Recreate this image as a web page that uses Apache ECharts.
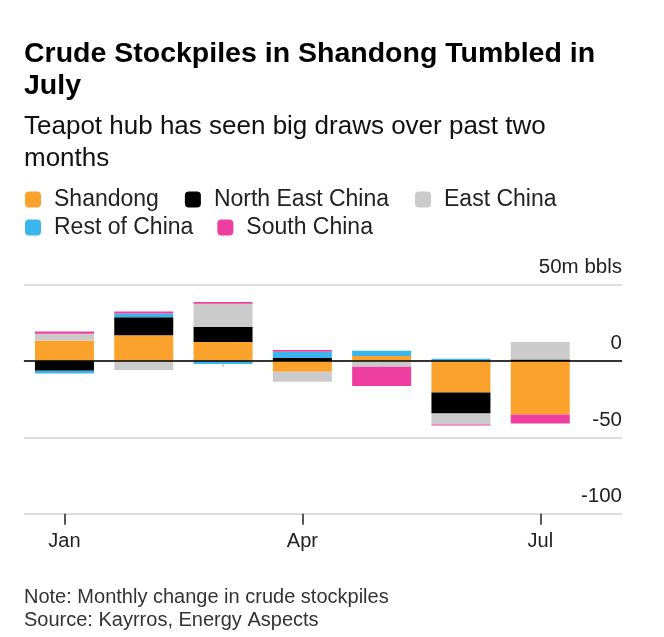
<!DOCTYPE html>
<html>
<head>
<meta charset="utf-8">
<script src="https://cdn.jsdelivr.net/npm/echarts@6/dist/echarts.min.js"></script>
<style>
  html, body { margin: 0; padding: 0; background: #fff; }
  #chart { width: 664px; height: 637px; }
</style>
</head>
<body>
<div id="chart"></div>
<script>
// monthly change in crude stockpiles, m bbls
var months = ['Jan', 'Feb', 'Mar', 'Apr', 'May', 'Jun', 'Jul'];
var monthTicks = [0, 3, 6];
var shandong = [13.4, 16.9, 12.5, -7.0, 3.3, -20.6, -35.0];
var northEast = [-6.4, 11.8, 9.9, 2.0, 0, -13.8, 1.0];
var eastChina = [4.4, -5.9, 15.1, -6.6, -3.7, -7.2, 11.5];
var restOfChina = [-1.7, 2.4, -2.0, 4.0, 3.5, 1.5, 0];
var southChina = [1.5, 1.3, 1.1, 1.3, -12.7, -0.6, -5.9];
var yTicks = [-100, -50, 0, 50];

var font = 'Liberation Sans, Arial, Helvetica, sans-serif';
var chart = echarts.init(document.getElementById('chart'));

function barSeries(name, arr, color) {
    return {
        name: name,
        type: 'bar',
        stack: 'total',
        stackStrategy: 'samesign',
        barWidth: 59,
        xAxisIndex: 2,
        yAxisIndex: 1,
        data: arr,
        itemStyle: { color: color },
        silent: true
    };
}

var series = [
    barSeries('Shandong', shandong, '#fba22d'),
    barSeries('North East China', northEast, '#000000'),
    barSeries('East China', eastChina, '#cbcbcb'),
    barSeries('Rest of China', restOfChina, '#3bb6ec'),
    barSeries('South China', southChina, '#ee3e9f')
];
// zero line across the full width
series.push({
    type: 'line',
    xAxisIndex: 0,
    yAxisIndex: 0,
    data: [],
    silent: true,
    markLine: {
        silent: true,
        symbol: ['none', 'none'],
        label: { show: false },
        lineStyle: { color: '#000', width: 1.5, type: 'solid' },
        data: [{ yAxis: 0 }]
    }
});

var legendText = { fontFamily: font, fontSize: 23, color: '#222', padding: [0, 0, 0, 8] };

var option = {
    animation: false,
    title: [
        {
            text: 'Crude Stockpiles in Shandong Tumbled in\nJuly',
            left: 24, top: 38, padding: 0,
            textStyle: { fontFamily: font, fontSize: 28.5, fontWeight: 'bold', color: '#000', lineHeight: 32 }
        },
        {
            text: 'Teapot hub has seen big draws over past two\nmonths',
            left: 24, top: 111, padding: 0,
            textStyle: { fontFamily: font, fontSize: 26, fontWeight: 'normal', color: '#111', lineHeight: 32 }
        },
        {
            text: 'Note: Monthly change in crude stockpiles\nSource: Kayrros, Energy Aspects',
            left: 24, top: 586, padding: 0,
            textStyle: { fontFamily: font, fontSize: 20, fontWeight: 'normal', color: '#333', lineHeight: 23 }
        }
    ],
    legend: [
        {
            data: ['Shandong', 'North East China', 'East China'],
            left: 20, top: 183,
            icon: 'roundRect', itemWidth: 16, itemHeight: 16, itemGap: 26,
            selectedMode: false,
            textStyle: legendText
        },
        {
            data: ['Rest of China', 'South China'],
            left: 20, top: 211,
            icon: 'roundRect', itemWidth: 16, itemHeight: 16, itemGap: 24,
            selectedMode: false,
            textStyle: legendText
        }
    ],
    grid: [
        // full-width frame: gridlines, ticks, labels
        { left: 24, right: 42, top: 284.7, bottom: 123.3 },
        // bars: 7 bands of 79.3px
        { left: 24.8, right: 84.1, top: 284.7, bottom: 123.3 }
    ],
    xAxis: [
        {
            type: 'value', gridIndex: 0, min: -0.51, max: 7.03,
            axisLine: { show: true, lineStyle: { color: '#cfcfcf', width: 1.5 } },
            axisTick: { show: true, customValues: [0, 1, 2, 3, 4, 5, 6], length: 6, lineStyle: { color: '#c8c8c8', width: 1.5 } },
            axisLabel: { show: false },
            splitLine: { show: false }
        },
        {
            type: 'value', gridIndex: 0, min: -0.51, max: 7.03, position: 'bottom',
            axisLine: { show: false },
            axisTick: { show: true, customValues: monthTicks, length: 11, lineStyle: { color: '#222', width: 1.5 } },
            axisLabel: {
                show: true, customValues: monthTicks, margin: 18,
                formatter: function (v) { return months[v]; },
                fontFamily: font, fontSize: 20, color: '#222'
            },
            splitLine: { show: false }
        },
        {
            type: 'category', gridIndex: 1, data: months,
            axisLine: { show: false }, axisTick: { show: false },
            axisLabel: { show: false }, splitLine: { show: false }
        }
    ],
    yAxis: [
        {
            type: 'value', gridIndex: 0, position: 'right',
            min: yTicks[0], max: yTicks[yTicks.length - 1], interval: 50,
            axisLine: { show: false },
            axisTick: { show: false },
            axisLabel: {
                inside: true, margin: 0, verticalAlign: 'bottom', padding: [0, 0, 7, 0],
                formatter: function (v) { return v === 50 ? '50m bbls' : String(v); },
                fontFamily: font, fontSize: 20.5, color: '#222'
            },
            splitLine: { show: true, lineStyle: { color: '#d2d2d2', width: 1.5 } }
        },
        {
            type: 'value', gridIndex: 1,
            min: yTicks[0], max: yTicks[yTicks.length - 1], interval: 50,
            axisLine: { show: false }, axisTick: { show: false },
            axisLabel: { show: false }, splitLine: { show: false }
        }
    ],
    series: series
};

chart.setOption(option);
</script>
</body>
</html>
